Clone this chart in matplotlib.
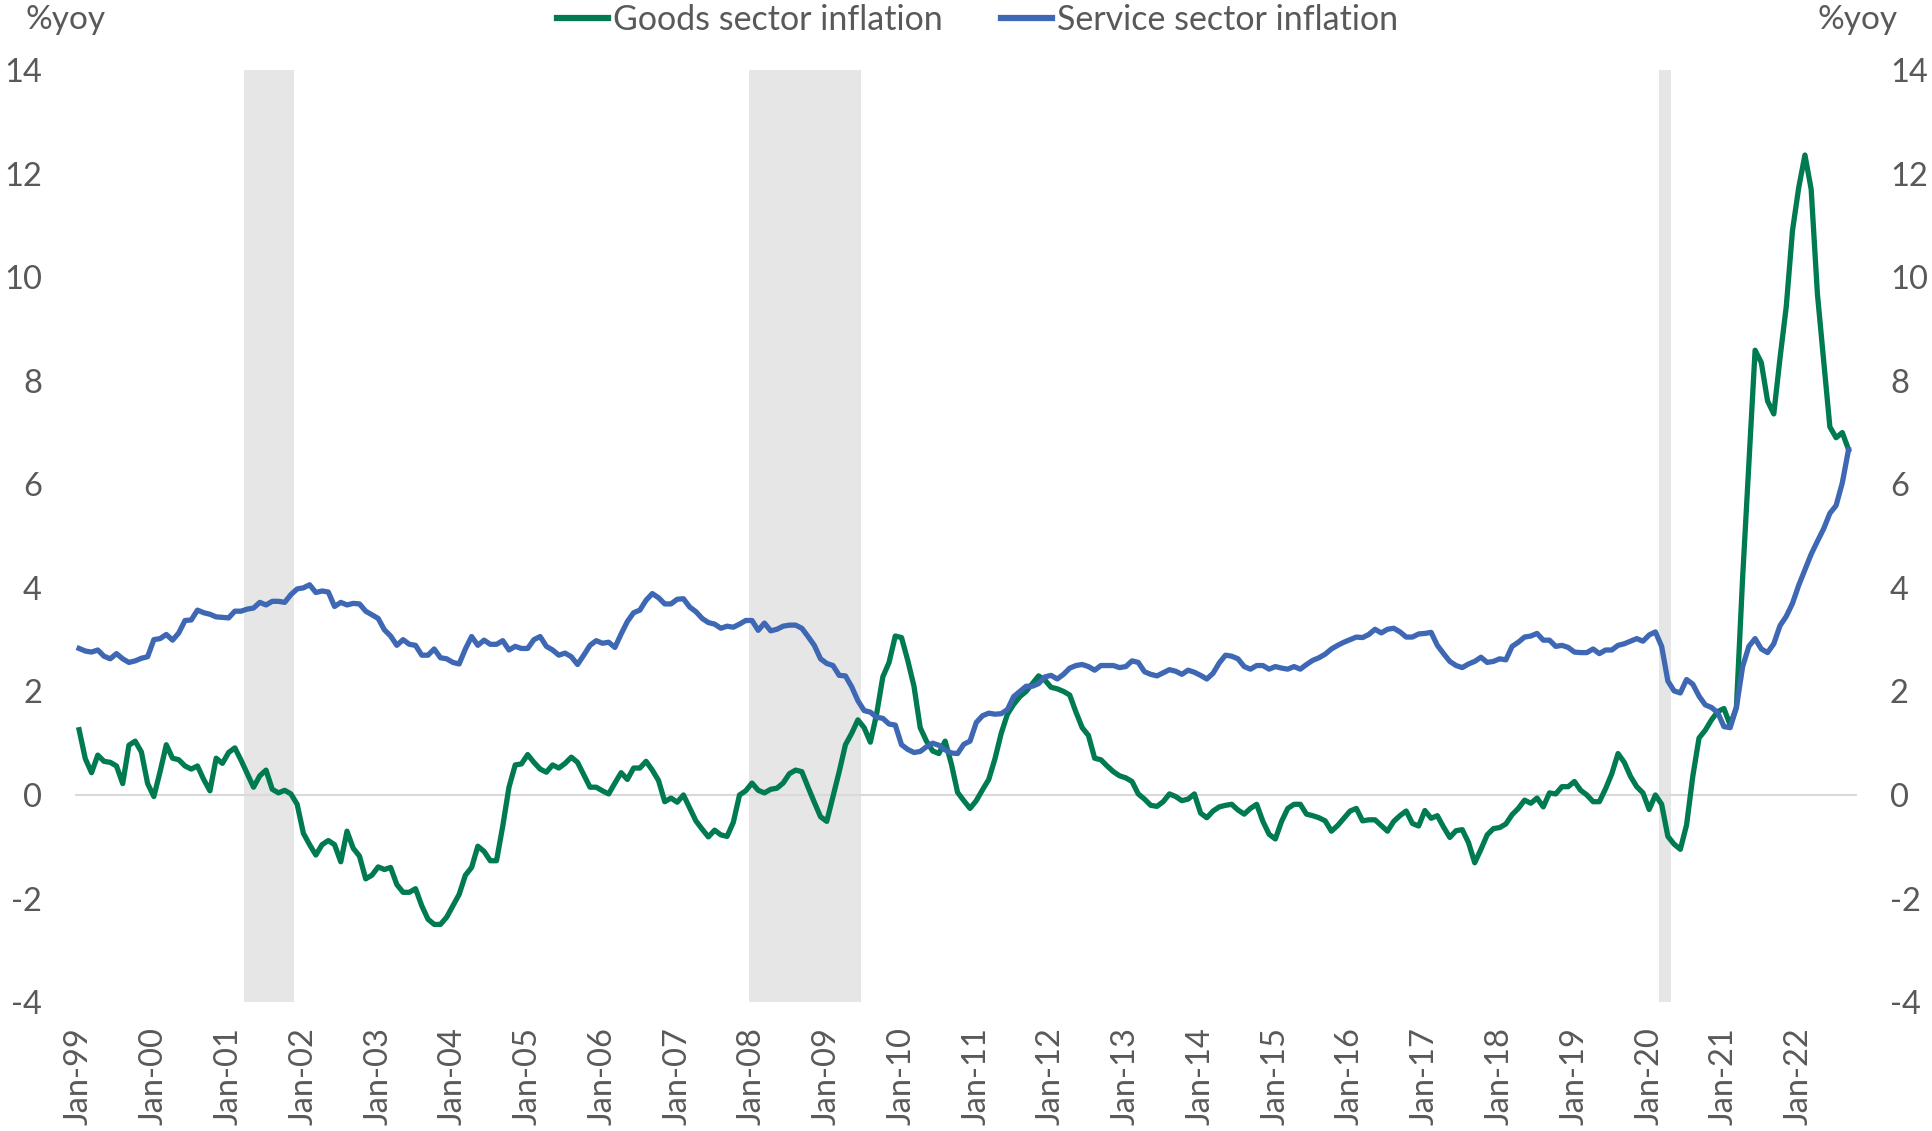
import numpy as np
import pandas as pd
import matplotlib
matplotlib.use('Agg')
import matplotlib.pyplot as plt

# monthly data, Jan-99 .. Sep-22
goods = [
    1.26, 0.70, 0.43, 0.77, 0.65, 0.63, 0.56, 0.22, 0.96, 1.04, 0.83, 0.22,
    -0.03, 0.45, 0.97, 0.71, 0.68, 0.56, 0.50, 0.56, 0.30, 0.08, 0.71, 0.61,
    0.82, 0.91, 0.67, 0.41, 0.15, 0.37, 0.48, 0.11, 0.04, 0.09, 0.02, -0.18,
    -0.74, -0.96, -1.16, -0.96, -0.88, -0.96, -1.29, -0.70, -1.03, -1.18, -1.62, -1.55,
    -1.39, -1.44, -1.40, -1.73, -1.88, -1.88, -1.81, -2.14, -2.40, -2.50, -2.50, -2.36,
    -2.14, -1.92, -1.55, -1.40, -0.99, -1.09, -1.27, -1.27, -0.60, 0.15, 0.58, 0.60,
    0.78, 0.63, 0.50, 0.44, 0.58, 0.52, 0.61, 0.73, 0.63, 0.39, 0.15, 0.15,
    0.08, 0.02, 0.23, 0.43, 0.30, 0.52, 0.52, 0.65, 0.48, 0.28, -0.13, -0.06,
    -0.14, 0.00, -0.25, -0.50, -0.66, -0.81, -0.68, -0.77, -0.80, -0.53, 0.00, 0.08,
    0.23, 0.09, 0.04, 0.11, 0.13, 0.23, 0.41, 0.48, 0.45, 0.15, -0.14, -0.42,
    -0.51, -0.03, 0.45, 0.97, 1.19, 1.45, 1.30, 1.02, 1.56, 2.28, 2.56, 3.07,
    3.04, 2.60, 2.10, 1.30, 1.04, 0.85, 0.80, 1.04, 0.60, 0.05, -0.11, -0.26,
    -0.11, 0.10, 0.30, 0.70, 1.19, 1.56, 1.75, 1.90, 2.00, 2.15, 2.30, 2.22,
    2.08, 2.05, 2.00, 1.93, 1.60, 1.30, 1.15, 0.71, 0.68, 0.56, 0.45, 0.37,
    0.33, 0.26, 0.02, -0.08, -0.20, -0.22, -0.13, 0.02, -0.03, -0.11, -0.08, 0.02,
    -0.35, -0.44, -0.31, -0.23, -0.20, -0.18, -0.29, -0.37, -0.26, -0.18, -0.51, -0.76,
    -0.85, -0.51, -0.26, -0.18, -0.18, -0.37, -0.40, -0.44, -0.50, -0.70, -0.59, -0.45,
    -0.31, -0.26, -0.50, -0.48, -0.48, -0.59, -0.70, -0.51, -0.40, -0.31, -0.55, -0.60,
    -0.30, -0.45, -0.40, -0.62, -0.82, -0.69, -0.67, -0.92, -1.31, -1.05, -0.77, -0.65,
    -0.63, -0.56, -0.38, -0.26, -0.10, -0.16, -0.06, -0.23, 0.04, 0.02, 0.16, 0.16,
    0.26, 0.09, 0.00, -0.13, -0.13, 0.12, 0.41, 0.80, 0.63, 0.36, 0.16, 0.04,
    -0.28, 0.00, -0.18, -0.80, -0.95, -1.05, -0.58, 0.36, 1.10, 1.25, 1.45, 1.61,
    1.67, 1.35, 1.69, 4.20, 6.40, 8.59, 8.35, 7.61, 7.36, 8.44, 9.43, 10.90,
    11.73, 12.36, 11.70, 9.68, 8.40, 7.11, 6.90, 7.00, 6.67,
]

services = [
    2.83, 2.78, 2.76, 2.80, 2.68, 2.63, 2.73, 2.63, 2.56, 2.59, 2.64, 2.67,
    3.00, 3.02, 3.10, 2.99, 3.13, 3.37, 3.38, 3.57, 3.52, 3.49, 3.44, 3.43,
    3.42, 3.55, 3.55, 3.59, 3.61, 3.72, 3.67, 3.74, 3.74, 3.72, 3.87, 3.98,
    4.00, 4.06, 3.91, 3.94, 3.92, 3.64, 3.72, 3.67, 3.70, 3.69, 3.55, 3.48,
    3.41, 3.19, 3.07, 2.89, 3.00, 2.91, 2.89, 2.70, 2.70, 2.82, 2.65, 2.63,
    2.56, 2.53, 2.82, 3.06, 2.89, 2.99, 2.91, 2.91, 2.98, 2.80, 2.87, 2.83,
    2.83, 3.00, 3.06, 2.87, 2.80, 2.70, 2.74, 2.67, 2.52, 2.70, 2.89, 2.98,
    2.93, 2.95, 2.85, 3.11, 3.35, 3.52, 3.57, 3.76, 3.89, 3.81, 3.69, 3.69,
    3.78, 3.79, 3.63, 3.54, 3.41, 3.33, 3.30, 3.22, 3.26, 3.24, 3.30, 3.37,
    3.37, 3.18, 3.32, 3.17, 3.20, 3.26, 3.28, 3.28, 3.22, 3.06, 2.89, 2.63,
    2.54, 2.50, 2.31, 2.30, 2.09, 1.82, 1.63, 1.60, 1.50, 1.48, 1.37, 1.35,
    0.97, 0.88, 0.82, 0.84, 0.93, 1.00, 0.96, 0.87, 0.81, 0.80, 0.98, 1.04,
    1.40, 1.53, 1.58, 1.56, 1.57, 1.65, 1.90, 2.00, 2.10, 2.10, 2.15, 2.28,
    2.31, 2.24, 2.33, 2.45, 2.50, 2.52, 2.48, 2.41, 2.50, 2.50, 2.50, 2.46,
    2.48, 2.59, 2.56, 2.38, 2.33, 2.30, 2.36, 2.42, 2.39, 2.33, 2.41, 2.37,
    2.31, 2.24, 2.35, 2.55, 2.70, 2.68, 2.63, 2.48, 2.43, 2.50, 2.50, 2.43,
    2.48, 2.45, 2.43, 2.48, 2.43, 2.52, 2.60, 2.65, 2.72, 2.82, 2.89, 2.95,
    3.00, 3.05, 3.04, 3.10, 3.20, 3.13, 3.20, 3.22, 3.15, 3.05, 3.05, 3.11,
    3.12, 3.14, 2.89, 2.73, 2.58, 2.50, 2.46, 2.53, 2.58, 2.66, 2.56, 2.58,
    2.63, 2.61, 2.87, 2.95, 3.05, 3.07, 3.12, 2.99, 2.99, 2.87, 2.89, 2.85,
    2.76, 2.75, 2.75, 2.82, 2.73, 2.80, 2.80, 2.89, 2.92, 2.97, 3.02, 2.97,
    3.09, 3.15, 2.87, 2.20, 2.01, 1.97, 2.23, 2.14, 1.91, 1.74, 1.69, 1.59,
    1.32, 1.30, 1.69, 2.48, 2.87, 3.02, 2.82, 2.75, 2.92, 3.27, 3.45, 3.70,
    4.05, 4.35, 4.65, 4.90, 5.14, 5.44, 5.59, 6.03, 6.67,
]

months = pd.date_range('1999-01-01', periods=len(goods), freq='MS')
month_labels = [d.strftime('%b-%y') for d in months]

# US recessions (start month, end month)
recessions = [('Mar-01', 'Nov-01'), ('Dec-07', 'Jun-09'), ('Feb-20', 'Apr-20')]

tick_labels = ['Jan-%02d' % (y % 100) for y in range(1999, 2023)]

green = '#007A4F'
blue = '#3E67B4'
grey_text = '#595959'

plt.rcParams['font.family'] = ['Lato', 'DejaVu Sans']

fig = plt.figure(figsize=(19.32, 11.31), dpi=100)
ax = fig.add_axes([0.039, 0.114, 0.922, 0.824])

x = np.arange(len(goods))

for start, end in recessions:
    i0 = month_labels.index(start)
    i1 = month_labels.index(end)
    ax.axvspan(i0 + 0.5, i1 + 0.5, color='#E6E6E6', lw=0, zorder=0)

ax.axhline(0, color='#D9D9D9', lw=1.5, zorder=1)
ax.plot(x, goods, color=green, lw=3.8, label='Goods sector inflation', zorder=3)
ax.plot(x, services, color=blue, lw=3.8, label='Service sector inflation', zorder=3)

ax.set_xlim(-0.6, 285.3)
ax.set_ylim(-4, 14)
ax.set_yticks(np.arange(-4, 15, 2))
ax.set_yticklabels([str(v) for v in range(-4, 15, 2)])
ticks = [month_labels.index(t) for t in tick_labels]
ax.set_xticks(ticks)
ax.set_xticklabels(tick_labels, rotation=90)
ax.tick_params(axis='x', length=0, pad=18, labelsize=23.5, labelcolor=grey_text)
ax.tick_params(axis='y', length=0, pad=24, labelsize=23.5, labelcolor=grey_text)
for s in ax.spines.values():
    s.set_visible(False)

ax2 = ax.twinx()
ax2.set_ylim(-4, 14)
ax2.set_yticks(np.arange(-4, 15, 2))
ax2.set_yticklabels([str(v) for v in range(-4, 15, 2)])
ax2.tick_params(axis='y', length=0, pad=24, labelsize=23.5, labelcolor=grey_text)
for s in ax2.spines.values():
    s.set_visible(False)

fig.text(0.013, 0.982, '%yoy', fontsize=24, color=grey_text, va='center', ha='left')
fig.text(0.982, 0.982, '%yoy', fontsize=24, color=grey_text, va='center', ha='right')

leg = fig.legend(loc='center', bbox_to_anchor=(0.506, 0.982), ncol=2, frameon=False,
                 fontsize=24.5, handlelength=1.5, handletextpad=0.15, columnspacing=1.7)
for t in leg.get_texts():
    t.set_color(grey_text)
for h in leg.get_lines():
    h.set_linewidth(4.5)

fig.savefig('out.png', dpi=100)
